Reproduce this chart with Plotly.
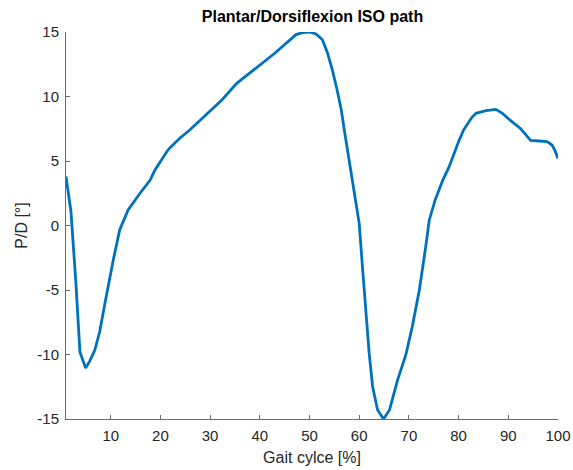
import plotly.graph_objects as go

gait_pct = [1, 2, 3, 3.8, 4.95, 5.8, 6.8, 7.8, 8.8, 9.8, 10.5, 11.8, 13.5, 15.9, 17.9, 18.9,
            20.2, 21.5, 22.5, 24, 25.9, 27.8, 29.6, 31, 32.3, 33.8, 35.3, 36.6, 37.9, 39.6, 41.3,
            43, 44.6, 46, 47.3, 48.5, 50, 51.3, 52.6, 53.6, 54.6, 55.5, 56.4, 57, 58.7,
            60, 60.7, 61.5, 62, 62.7, 63.7, 64.9, 66.1, 67.7, 69.4, 70.7,
            72.1, 73.4, 74.1, 75.3, 76.8, 78.1, 79.1, 80.1, 81, 81.8, 82.6, 83.5, 85.5, 87.5,
            88.8, 89.8, 90.8, 92.5, 93.5, 94.5, 96.2, 97.8, 98.8, 99.4, 100]
pd_angle = [3.8, 1.07, -4.5, -9.8, -11.05, -10.5, -9.65, -8.2, -6.1, -4.0, -2.7, -0.35, 1.2, 2.5, 3.5, 4.3,
            5.1, 5.85, 6.24, 6.8, 7.4, 8.1, 8.7, 9.2, 9.7, 10.35, 11.0, 11.4, 11.8, 12.3, 12.8,
            13.35, 13.9, 14.4, 14.8, 14.95, 15.0, 14.85, 14.4, 13.4, 12.05, 10.6, 8.95, 7.4, 3.5,
            0.17, -3.45, -7.4, -9.9, -12.5, -14.3, -15.0, -14.3, -12.0, -10.0, -7.8,
            -5.0, -1.6, 0.43, 2.0, 3.5, 4.56, 5.6, 6.6, 7.4, 7.9, 8.35, 8.7, 8.9, 9.0,
            8.7, 8.35, 8.05, 7.5, 7.05, 6.6, 6.55, 6.5, 6.24, 5.8, 5.2]

x_ticks = [10, 20, 30, 40, 50, 60, 70, 80, 90, 100]
y_ticks = [-15, -10, -5, 0, 5, 10, 15]

FONT = "Liberation Sans, Arial"

fig = go.Figure()
fig.add_trace(go.Scatter(x=gait_pct, y=pd_angle, mode="lines",
                         line=dict(color="#0072BD", width=2.8), showlegend=False))

axis_common = dict(showgrid=False, zeroline=False, showline=True, linecolor="#6a6a6a", linewidth=1,
                   ticks="inside", ticklen=4, tickcolor="#6a6a6a",
                   tickfont=dict(family=FONT, size=15, color="#262626"),
                   ticklabelstandoff=3, mirror=False, automargin=False)

fig.update_layout(
    width=573, height=470,
    margin=dict(l=66, r=15, t=32, b=51),
    paper_bgcolor="white", plot_bgcolor="white",
    title=dict(text="<b>Plantar/Dorsiflexion ISO path</b>", x=312.5 / 573, xanchor="center",
               y=1 - 16 / 470, yanchor="middle",
               font=dict(family=FONT, size=16, color="#000000")),
    xaxis=dict(range=[1, 100], tickvals=x_ticks, ticktext=[str(v) for v in x_ticks],
               title=dict(text="Gait cylce [%]", standoff=8,
                          font=dict(family=FONT, size=16, color="#262626")),
               **axis_common),
    yaxis=dict(range=[-15, 15], tickvals=y_ticks, ticktext=[str(v) for v in y_ticks],
               title=dict(text="P/D [°]", standoff=5,
                          font=dict(family=FONT, size=16, color="#262626")),
               **axis_common),
)

fig.write_html("out.html")
